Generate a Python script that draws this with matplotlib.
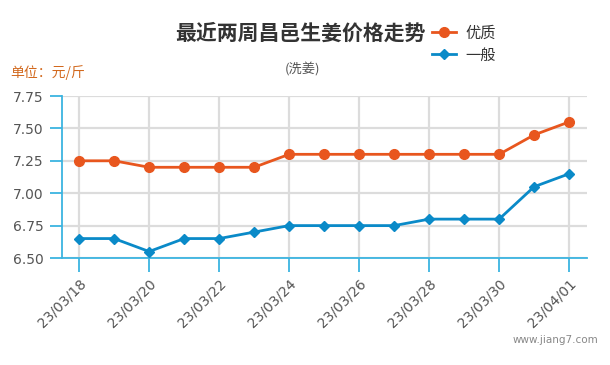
import matplotlib
matplotlib.use("Agg")
import matplotlib.pyplot as plt
from matplotlib.lines import Line2D

plt.rcParams['font.family'] = ['Noto Sans CJK SC', 'DejaVu Sans']

dates = ["23/03/18", "23/03/19", "23/03/20", "23/03/21", "23/03/22", "23/03/23",
         "23/03/24", "23/03/25", "23/03/26", "23/03/27", "23/03/28", "23/03/29",
         "23/03/30", "23/03/31", "23/04/01"]
good = [7.25, 7.25, 7.20, 7.20, 7.20, 7.20, 7.30, 7.30, 7.30, 7.30, 7.30, 7.30, 7.30, 7.45, 7.55]
normal = [6.65, 6.65, 6.55, 6.65, 6.65, 6.70, 6.75, 6.75, 6.75, 6.75, 6.80, 6.80, 6.80, 7.05, 7.15]
yticks = [6.50, 6.75, 7.00, 7.25, 7.50, 7.75]

orange = "#e8561e"
blue = "#0a8ac8"
axis_blue = "#3bb4e0"
grid_c = "#dcdcdc"
text_c = "#555555"

fig = plt.figure(figsize=(6.1, 3.65), dpi=100)
ax = fig.add_axes([62 / 610, 1 - 258 / 365, 525 / 610, 162 / 365])

x = list(range(len(dates)))
ax.plot(x, good, color=orange, lw=2, marker="o", ms=7, zorder=3)
ax.plot(x, normal, color=blue, lw=2, marker="D", ms=5.5, zorder=3)

ax.set_xlim(-0.49, 14.51)
ax.set_ylim(6.5, 7.75)
ax.set_yticks(yticks)
ax.set_yticklabels([f"{v:.2f}" for v in yticks], fontsize=10, color=text_c, family="DejaVu Sans")
ax.set_xticks(x[::2])
ax.set_xticklabels(dates[::2], rotation=45, ha="right", rotation_mode="anchor",
                   fontsize=10, color=text_c, family="DejaVu Sans")

for s in ["top", "right"]:
    ax.spines[s].set_visible(False)
for s in ["left", "bottom"]:
    ax.spines[s].set_color(axis_blue)
    ax.spines[s].set_linewidth(1.3)
ax.tick_params(axis="y", length=9, width=1.3, color=axis_blue, pad=4)
ax.tick_params(axis="x", length=10, width=1.3, color=axis_blue, pad=3)
ax.grid(True, color=grid_c, lw=1.6, zorder=0)
ax.set_axisbelow(True)

fig.text(300 / 610, 1 - 33 / 365, "最近两周昌邑生姜价格走势", ha="center", va="center",
         fontsize=15, fontweight="bold", color="#333333")
fig.text(303 / 610, 1 - 70 / 365, "(洗姜)", ha="center", va="center", fontsize=9.5, color=text_c)
fig.text(10 / 610, 1 - 73 / 365, "单位：元/斤", ha="left", va="center", fontsize=10, color="#d2691e")
fig.text(598 / 610, 1 - 340 / 365, "www.jiang7.com", ha="right", va="center", fontsize=7.5,
         color="#888888", family="DejaVu Sans")

handles = [Line2D([], [], color=orange, lw=2, marker="o", ms=7),
           Line2D([], [], color=blue, lw=2, marker="D", ms=5.5)]
fig.legend(handles, ["优质", "一般"], loc="center left", bbox_to_anchor=(418 / 610, 1 - 44 / 365),
           frameon=False, handlelength=1.6, handletextpad=0.6, labelspacing=0.35,
           labelcolor="#333333", prop={"weight": "medium", "size": 11})

fig.savefig("out.png", dpi=100)
